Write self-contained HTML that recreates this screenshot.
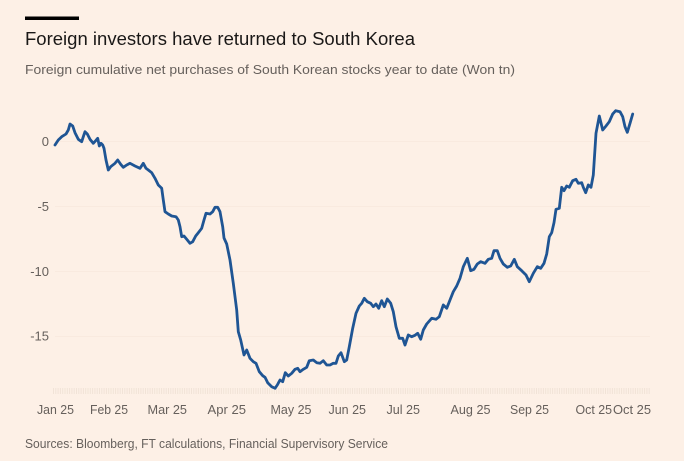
<!DOCTYPE html>
<html><head><meta charset="utf-8"><style>
html,body{margin:0;padding:0;background:#fdf0e6;}
svg{display:block;}
text{font-family:"Liberation Sans",sans-serif;}
</style></head><body>
<svg width="684" height="461" viewBox="0 0 684 461" xmlns="http://www.w3.org/2000/svg">
<rect x="0" y="0" width="684" height="461" fill="#fdf0e6"/>
<rect x="25" y="16.5" width="54" height="3.5" fill="#000"/>
<text x="25" y="45" font-size="18" fill="#1a1817" textLength="390" lengthAdjust="spacingAndGlyphs">Foreign investors have returned to South Korea</text>
<text x="25" y="74" font-size="13" fill="#66605c" textLength="490" lengthAdjust="spacingAndGlyphs">Foreign cumulative net purchases of South Korean stocks year to date (Won tn)</text>
<g stroke="#f9eadf" stroke-width="1">
<line x1="55" y1="141.5" x2="650" y2="141.5"/>
<line x1="55" y1="206.5" x2="650" y2="206.5"/>
<line x1="55" y1="271.5" x2="650" y2="271.5"/>
<line x1="55" y1="336.5" x2="650" y2="336.5"/>
</g>
<line x1="53" y1="391" x2="650" y2="391" stroke="#f1e3d7" stroke-width="6" stroke-dasharray="1,1.3"/>
<g font-size="13" fill="#66605c" text-anchor="end">
<text x="49" y="146">0</text>
<text x="49" y="211">-5</text>
<text x="49" y="276">-10</text>
<text x="49" y="340.5">-15</text>
</g>
<g font-size="13" fill="#66605c">
<text x="37" y="414" textLength="37" lengthAdjust="spacingAndGlyphs">Jan 25</text>
<text x="90" y="414" textLength="38" lengthAdjust="spacingAndGlyphs">Feb 25</text>
<text x="147.5" y="414" textLength="39.5" lengthAdjust="spacingAndGlyphs">Mar 25</text>
<text x="207.5" y="414" textLength="38.5" lengthAdjust="spacingAndGlyphs">Apr 25</text>
<text x="270.5" y="414" textLength="41" lengthAdjust="spacingAndGlyphs">May 25</text>
<text x="328.5" y="414" textLength="37.5" lengthAdjust="spacingAndGlyphs">Jun 25</text>
<text x="386.5" y="414" textLength="33.5" lengthAdjust="spacingAndGlyphs">Jul 25</text>
<text x="450.5" y="414" textLength="40" lengthAdjust="spacingAndGlyphs">Aug 25</text>
<text x="510" y="414" textLength="39" lengthAdjust="spacingAndGlyphs">Sep 25</text>
<text x="575.5" y="414" textLength="36.5" lengthAdjust="spacingAndGlyphs">Oct 25</text>
<text x="613" y="414" textLength="38" lengthAdjust="spacingAndGlyphs">Oct 25</text>
</g>
<polyline fill="none" stroke="#1f5594" stroke-width="2.8" stroke-linejoin="round" stroke-linecap="round" points="
55,145 58.3,140 61.7,136.7 66,134 68.3,130 70,124 72.7,126 75,132.7 78.3,139.3 81.7,141.7 83.3,136.7 85,131.7 87.3,134 90,139.3 93.3,143.3 95.7,140.7 97.7,138.3 99.3,146 101,143.3 102.7,145 104,148.3 106,160 108.3,170 110.7,166.7 115,163.3 117.7,160 120.7,164.3 123.3,167.3 126.7,165 130,163.3 135,166 140,168.3 143.3,163.3 146,168.3 148.3,170 151.7,172.7 155,178.3 158.3,185 161.7,188.3 163.3,200 165,211.7 168.3,214 171.7,216 176,216.7 178.3,220 180,226.7 181.7,236.7 184,236 186.7,239.3 190,243.3 192.7,241.7 195.7,236 198.3,232.7 201.7,228.3 204,220 206,213.3 210,214 212.7,211.7 215,207.3 217.7,207.3 220,211.7 222.7,226.7 224,238 226.7,244 230,260 233.3,283.3 236.7,310 238.3,331.7 240.7,340 244,355 246.7,350 250,358.3 253.3,361.7 256,363.3 259.3,371.7 262.7,375.7 265,377.3 267.7,382.7 271.7,386.7 275,388.3 277.3,385 280,380 282.7,381.7 285.3,372.7 288.3,376 291.7,373.3 295,369.3 297.7,368.3 300,371.7 303.3,369.3 306.7,367.3 309.3,360.7 313.3,360 316.7,362.7 320,363.3 323.3,360.7 326.7,365 330,365 333.3,363.3 336,363.3 338.3,356 341,352.7 344.3,361.7 346.7,360 349.3,346.7 352.7,328.3 356,313.3 359.3,306 361.7,303.3 364.3,298.3 367.3,301.7 370.7,303.3 373.3,306.7 376,304 378.7,308.3 381.7,300.7 384.3,306.7 387.3,299 390.7,303.3 393.3,311.7 396,326.7 399.3,338.3 402.7,338.3 405,345 408.3,335 411.7,336.7 415,335.3 417.7,333.3 420.7,339.3 423.3,330 426.7,324 431.7,318.3 436,319.3 439.3,316.7 443.3,305 446.7,308.3 450,300 453.3,291.7 456.7,286 460,278.3 463.3,266.7 467.3,258.3 470.7,270.7 474,269.3 477.3,264 480.7,261.7 485,263.3 488.3,259.3 491.7,258.3 494,250.7 497.3,250.7 500,258.3 503.3,264 507.3,267.3 510.7,266 514.3,259.3 517.3,266.7 521.7,270.7 526,275 529.3,281.7 533.3,273.3 537.3,266.7 540.7,268.3 544,263.3 546.7,254 549.3,236.7 551.7,232.7 554,222.7 556,209.3 559.3,208.3 561.7,187.3 564,190.7 566.7,186 569.3,187.3 572.7,180.7 576,179.3 578.3,183.3 581.7,182.7 583.3,187.3 585.7,192.7 588.3,185 591,187.3 593.3,175 596,133.3 599.3,116 602.7,130 606,126 609.3,121.7 612.7,114 615.7,110.7 620,111.7 622.7,116.7 625,126.7 627.3,132.3 630,123.3 632.7,114"/>
<text x="25" y="448" font-size="13" fill="#66605c" textLength="363" lengthAdjust="spacingAndGlyphs">Sources: Bloomberg, FT calculations, Financial Supervisory Service</text>
</svg>
</body></html>
